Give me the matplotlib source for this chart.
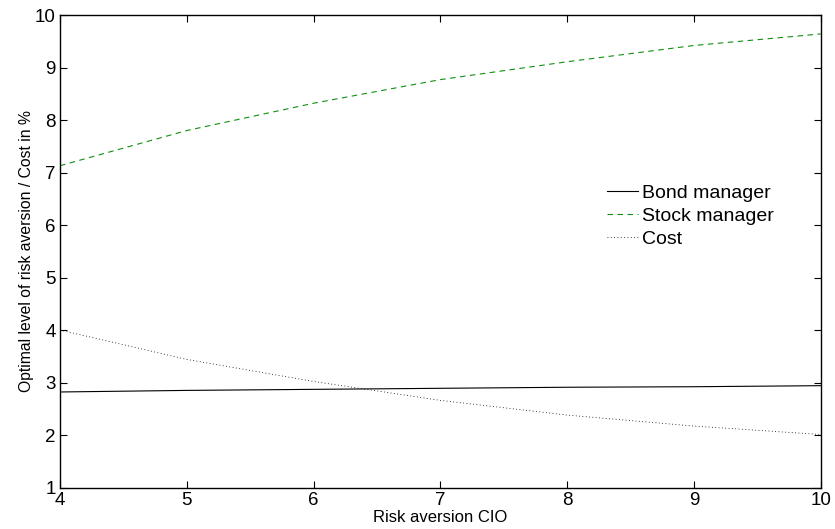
import numpy as np
import matplotlib
matplotlib.use("Agg")
import matplotlib.pyplot as plt

plt.rcParams['font.family'] = ['Liberation Sans', 'DejaVu Sans']

# values
risk_cio = [4, 5, 6, 7, 8, 9, 10]
bond = [2.82, 2.85, 2.87, 2.89, 2.91, 2.92, 2.94]
stock = [7.13, 7.80, 8.32, 8.77, 9.11, 9.42, 9.64]
cost = [4.00, 3.44, 3.02, 2.66, 2.38, 2.17, 2.01]


def main():
    fig = plt.figure(figsize=(8.35, 5.29), dpi=100)
    ax = fig.add_axes([0.0719, 0.0784, 0.9111, 0.8932])

    ax.plot(risk_cio, bond, color='black', linewidth=0.8, label='Bond manager')
    ax.plot(risk_cio, stock, color='#109010', linewidth=0.8, linestyle=(0, (5, 4)), label='Stock manager')
    ax.plot(risk_cio, cost, color='black', linewidth=0.6, linestyle=(0, (1, 3)), label='Cost')

    ax.set_xlim(4, 10)
    ax.set_ylim(1, 10)
    ax.set_xticks(range(4, 11))
    ax.set_yticks(range(1, 11))
    ax.tick_params(direction='in', length=5, width=0.8, labelsize=13.5,
                   top=True, right=True, pad=3)
    for s in ax.spines.values():
        s.set_linewidth(1.0)

    ax.set_xlabel('Risk aversion CIO', fontsize=12, labelpad=1)
    ax.set_ylabel('Optimal level of risk aversion / Cost in %', fontsize=11.3, labelpad=1)

    ax.legend(loc='center left', bbox_to_anchor=(0.719, 0.574), frameon=False,
              fontsize=14, borderpad=0, borderaxespad=0, handlelength=1.6,
              handletextpad=0.2, labelspacing=0.28)

    fig.savefig('out.png', dpi=100)


if __name__ == '__main__':
    main()
